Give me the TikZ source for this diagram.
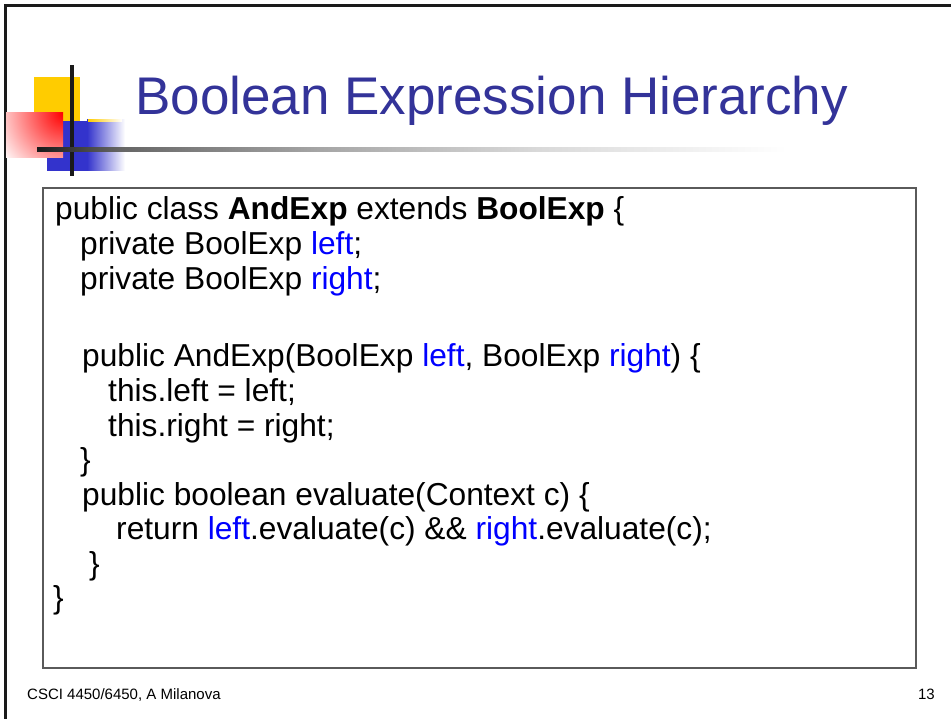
\documentclass[tikz,border=0pt]{standalone}
\usepackage{fontspec}
\setmainfont{Liberation Sans}
\usepackage{tikz}
\usetikzlibrary{calc}

\definecolor{titleblue}{RGB}{51,51,153}
\definecolor{decoblue}{RGB}{51,51,204}
\definecolor{decoyellow}{RGB}{255,204,0}
\definecolor{codeblue}{RGB}{0,0,255}
\definecolor{rulegray}{RGB}{26,26,26}
\definecolor{boxgray}{RGB}{90,90,90}

\pgfdeclarehorizontalshading{rulefade}{100bp}{color(0bp)=(rulegray); color(25bp)=(rulegray); color(30bp)=(black!60); color(42bp)=(black!35); color(55bp)=(black!15); color(70bp)=(white); color(100bp)=(white)}

\newcommand{\fld}[1]{\textcolor{codeblue}{#1}}

\begin{document}
\begin{tikzpicture}[
				x=1pt, y=-1pt,
				line cap=butt,
				title/.style={anchor=base west, inner sep=0pt, text=titleblue, font=\fontsize{53}{60}\selectfont},
				codeline/.style={anchor=base west, inner sep=0pt, font=\fontsize{31.7}{38}\selectfont},
				footer/.style={inner sep=0pt, font=\fontsize{15}{18}\selectfont}
				]
				\useasboundingbox (0,0) rectangle (951,719);
				\fill[white] (0,0) rectangle (951,719);
				
				% Slide frame
				\draw[line width=3pt, rulegray] (5.5,719) -- (5.5,5.8) -- (951,5.8);
				
				% Corner ornament
				\fill[decoyellow] (34,77) rectangle (80,121);
				\fill[decoblue] (47,121) rectangle (88,171);
				\shade[left color=decoblue, right color=white] (87,120) rectangle (125,171);
				\shade[left color=decoyellow, right color=white] (88,119.5) rectangle (122,121.5);
				\begin{scope}
					\clip (6,113) rectangle (63,158);
					\shade[inner color=red, outer color=white] (63,113) circle (75);
				\end{scope}
				\fill[rulegray] (70,65) rectangle (74,176);
				\shade[shading=rulefade] (37,148) rectangle (870,151.5);
				
				% Title
				\node[title] (title) at (135,115) {Boolean Expression Hierarchy};
				
				% Code box
				\draw[boxgray, line width=1.5pt] (43,188) rectangle (916,668);
				
				% Code lines
				\node[codeline] (c1) at (55,220) {public class \textbf{AndExp} extends \textbf{BoolExp} \{};
				\node[codeline] (c2) at (80,255) {private BoolExp \fld{left};};
				\node[codeline] (c3) at (80,290) {private BoolExp \fld{right};};
				\node[codeline] (c5) at (82,367) {public AndExp(BoolExp \fld{left}, BoolExp \fld{right}) \{};
				\node[codeline] (c6) at (108,401.5) {this.left = left;};
				\node[codeline] (c7) at (108,436) {this.right = right;};
				\node[codeline] (c8) at (80,470.5) {\}};
				\node[codeline] (c9) at (82,505) {public boolean evaluate(Context c) \{};
				\node[codeline] (c10) at (116,539.5) {return \fld{left}.evaluate(c) \&\& \fld{right}.evaluate(c);};
				\node[codeline] (c11) at (89,574) {\}};
				\node[codeline] (c12) at (53,608.5) {\}};
				
				% Footer
				\node[footer, anchor=base west] (foot) at (27,699) {CSCI 4450/6450, A Milanova};
				\node[footer, anchor=base east] (page) at (935,699) {13};
			\end{tikzpicture}
\end{document}
